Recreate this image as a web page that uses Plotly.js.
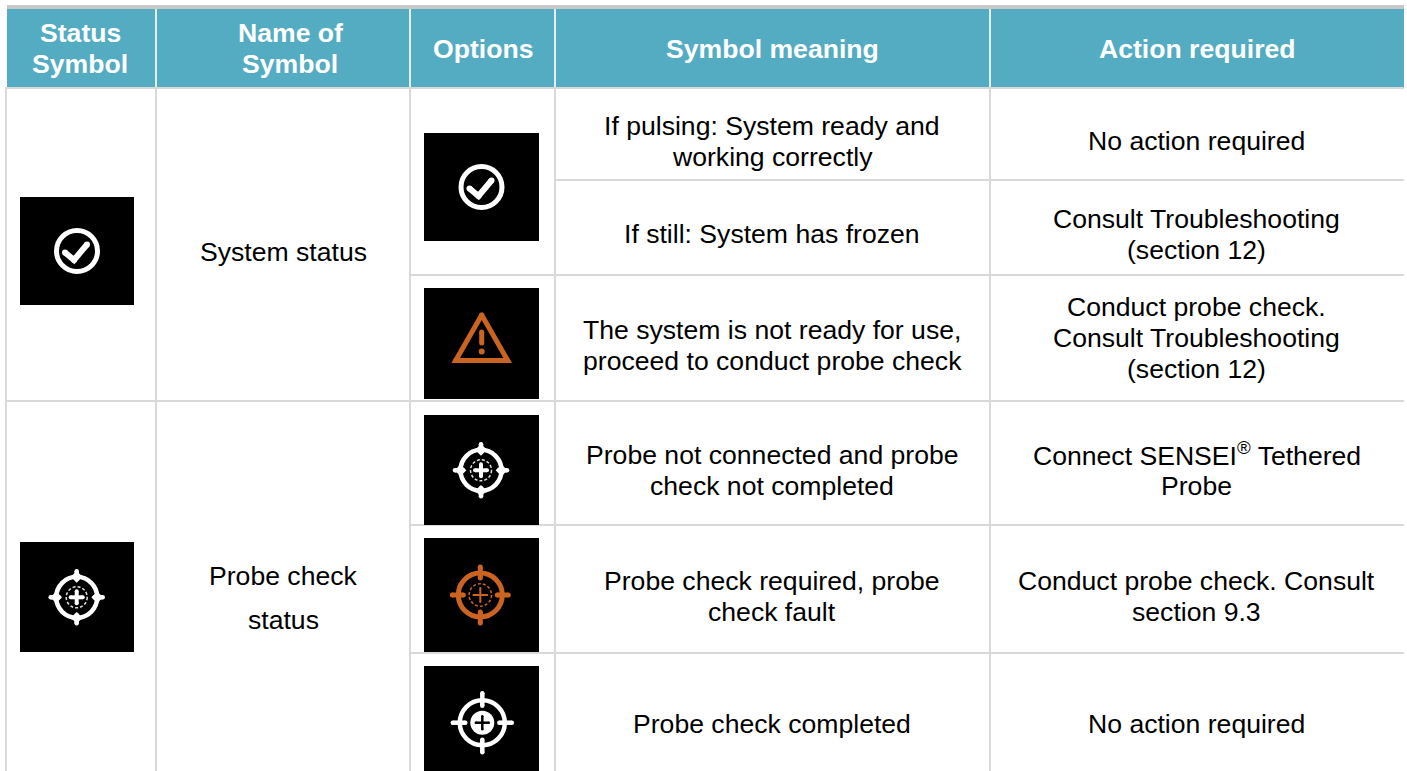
<!DOCTYPE html>
<html><head><meta charset="utf-8">
<script src="https://cdn.plot.ly/plotly-3.0.1.min.js"></script>
<style>html,body{margin:0;padding:0;background:#fff;overflow:hidden}#c{width:1407px;height:771px}</style>
</head><body><div id="c"></div>
<script>
// ---- table content ----
const headerLines = ["Status","Symbol","Name of","Symbol","Options","Symbol meaning","Action required"];
const headerX     = [80,80,290,290,483,772,1197];
const headerY     = [33,64,33,64,49,49,49];
const nameLines   = ["System status","Probe check","status"];
const nameY       = [252,576,620];
const meaningLines = ["If pulsing: System ready and","working correctly","If still: System has frozen",
  "The system is not ready for use,","proceed to conduct probe check","Probe not connected and probe",
  "check not completed","Probe check required, probe","check fault","Probe check completed"];
const meaningY    = [126,157,234,330,361,455,486,581,612,724];
const actionLines = ["No action required","Consult Troubleshooting","(section 12)","Conduct probe check.",
  "Consult Troubleshooting","(section 12)","Connect SENSEI<sup>®</sup> Tethered","Probe",
  "Conduct probe check. Consult","section 9.3","No action required"];
const actionY     = [141,219,250,307,338,369,454,486,581,612,724];

// ---- grid ----
const colEdges = [6,156,410,555,990];
const rowRules = [[180,555],[275,410],[401,6],[525,410],[653,410]];
const headerTop = 9, headerBottom = 87, rightEdge = 1404;

// ---- icon tiles: [x0,y0,x1,y1] ----
const tiles = [[20,197,134,305],[424,133,539,241],[424,288,539,399],[424,415,539,525],
               [424,538,539,652],[424,666,539,771],[20,542,134,652]];
const checks  = [[77,251],[481.5,187]];
const warning = [481.7,338];
const ORANGE = "#CB6420", WHITE = "#ffffff", LINE = "#d9d9d9", TEAL = "#53ACC1";

const shapes = [], traces = [], annotations = [];
const rect = (x0,y0,x1,y1,c)=>shapes.push({type:"rect",layer:"below",xref:"x",yref:"y",x0,y0,x1,y1,fillcolor:c,line:{width:0}});
const seg  = (x0,y0,x1,y1,c,w)=>shapes.push({type:"line",layer:"below",xref:"x",yref:"y",x0,y0,x1,y1,line:{color:c,width:w}});
const ring = (cx,cy,r,c,w,dash)=>shapes.push({type:"circle",layer:"below",xref:"x",yref:"y",x0:cx-r,x1:cx+r,y0:cy-r,y1:cy+r,
   line:{color:c,width:w,dash:dash||"solid"},fillcolor:"rgba(0,0,0,0)"});
const disk = (cx,cy,r,c)=>shapes.push({type:"circle",layer:"below",xref:"x",yref:"y",x0:cx-r,x1:cx+r,y0:cy-r,y1:cy+r,line:{width:0},fillcolor:c});
const stroke = (xs,ys,c,w)=>traces.push({type:"scatter",mode:"lines+markers",x:xs,y:ys,line:{color:c,width:w},
   marker:{color:c,size:w,line:{width:0}},hoverinfo:"skip",showlegend:false,cliponaxis:false});
const lozenges = (xs,ys,c,s)=>traces.push({type:"scatter",mode:"markers",x:xs,y:ys,marker:{symbol:"diamond",color:c,size:s,line:{width:0}},hoverinfo:"skip",showlegend:false});

// grid
rect(7,5,rightEdge,9,"#c8c8c8");
rect(7,headerTop,rightEdge,headerBottom,TEAL);
colEdges.forEach((x,i)=>{ if(i>0) seg(x,headerTop,x,headerBottom,"#e3eef1",2); seg(x,headerBottom,x,771,LINE,2); });
seg(6,88,1404,88,LINE,2);
rowRules.forEach(([y,x])=>seg(x,y,1404,y,LINE,2));
tiles.forEach(t=>rect(t[0],t[1],t[2],t[3],"#000"));

// icons
checks.forEach(([cx,cy])=>{
  ring(cx,cy,20.5,WHITE,5);
  stroke([cx-12,cx-3,cx+10],[cy+1.5,cy+9,cy-6.5],WHITE,6);
});
(function(){
  const [cx,cy]=warning;
  stroke([cx,cx-26,cx+26,cx],[cy-23,cy+22.5,cy+22.5,cy-23],ORANGE,5);
  stroke([cx,cx],[cy-6,cy+5],ORANGE,5);
  disk(cx,cy+13.5,3,ORANGE);
})();
function target(cx,cy,o){
  const c=o.color,R=o.ring,T=o.tip,I=o.inner;
  ring(cx,cy,R,c,o.ringW);
  stroke([cx-T,cx-I],[cy,cy],c,o.tickW);
  stroke([cx+I,cx+T],[cy,cy],c,o.tickW);
  stroke([cx,cx],[cy-T,cy-I],c,o.tickW);
  stroke([cx,cx],[cy+I,cy+T],c,o.tickW);
  if(o.bulge) lozenges([cx-R,cx+R,cx,cx],[cy,cy,cy-R,cy+R],c,o.bulge);
  if(o.solid){ disk(cx,cy,o.dash,c); stroke([cx-o.plus,cx+o.plus],[cy,cy],"#000",o.plusW); stroke([cx,cx],[cy-o.plus,cy+o.plus],"#000",o.plusW); }
  else { ring(cx,cy,o.dash,o.dashC||c,o.dashW||1.2,"3px,2px");
         stroke([cx-o.plus,cx+o.plus],[cy,cy],c,o.plusW); stroke([cx,cx],[cy-o.plus,cy+o.plus],c,o.plusW); }
}
const fuzzy={color:WHITE,ring:20.5,ringW:4.5,tip:26,inner:18,tickW:4.5,bulge:9,dash:10.5,dashC:"#e0e0e0",dashW:1.5,plus:6,plusW:4};
target(481,470.3,fuzzy);
target(76.7,597.3,fuzzy);
target(480.3,595,{color:ORANGE,ring:22,ringW:5,tip:28,inner:17,tickW:5,dash:11.2,dashW:1.5,plus:7,plusW:2});
target(482.3,722.7,{color:WHITE,ring:22.5,ringW:4.5,tip:29.5,inner:17,tickW:4.5,solid:true,dash:12,plus:6.5,plusW:2.5});

// text
const FONT="Liberation Sans, Arial, sans-serif";
const put=(text,x,y,bold)=>annotations.push({xref:"x",yref:"y",x,y,text:bold?"<b>"+text+"</b>":text,showarrow:false,
   xanchor:"center",yanchor:"middle",align:"center",font:{family:FONT,size:26.6,color:bold?"#fff":"#000"}});
headerLines.forEach((t,i)=>put(t,headerX[i],headerY[i],true));
nameLines.forEach((t,i)=>put(t,283,nameY[i]));
meaningLines.forEach((t,i)=>put(t,772,meaningY[i]));
actionLines.forEach((t,i)=>put(t,1196.5,actionY[i]));

Plotly.newPlot("c",traces,{
  width:1407,height:771,margin:{l:0,r:0,t:0,b:0},paper_bgcolor:"#fff",plot_bgcolor:"#fff",
  xaxis:{range:[0,1407],visible:false,fixedrange:true},
  yaxis:{range:[771,0],visible:false,fixedrange:true},
  showlegend:false,shapes,annotations
},{displayModeBar:false,staticPlot:true});
</script></body></html>
